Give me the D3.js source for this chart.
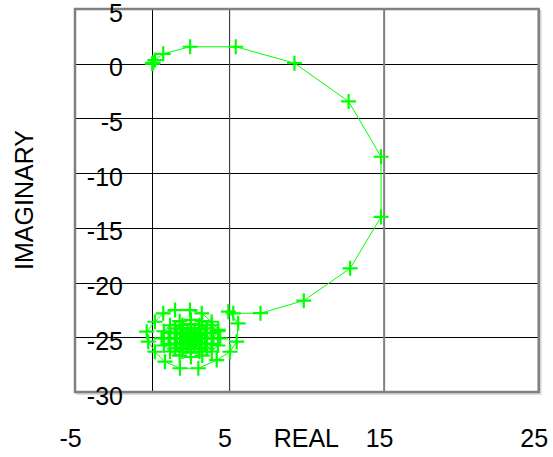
<!DOCTYPE html>
<html>
<head>
<meta charset="utf-8">
<script src="https://cdn.jsdelivr.net/npm/d3@7"></script>
<style>
  body { margin: 0; background: white; }
  text { font-family: "Liberation Sans", Arial, sans-serif; }
</style>
</head>
<body>
<svg id="nyquist"></svg>
<script>
// points (real, imaginary)
const realPart = [0, 0.02, 0.06, 0.17, 0.71, 2.45, 5.4, 9.2, 12.7, 14.8, 14.8, 12.8, 9.8, 7.0,
    5.24, 4.92, 5.56, 5.46, 5.03, 4.17, 2.98, 1.79, 0.82, 0.17, -0.26, -0.36, 0.17, 0.71, 1.47, 2.44, 3.2, 3.84, 4.27,
    4.4, 4.25, 3.85, 3.23, 2.5, 1.77, 1.15, 0.75, 0.6, 0.75, 1.15, 1.77, 2.5, 3.23, 3.85, 4.25,
    3.95, 3.84, 3.53, 3.05, 2.5, 1.95, 1.47, 1.16, 1.05, 1.16, 1.47, 1.95, 2.5, 3.05, 3.53, 3.84,
    3.55, 3.41, 3.03, 2.5, 1.97, 1.59, 1.45, 1.59, 1.97, 2.5, 3.03, 3.41,
    3.2, 3.07, 2.72, 2.28, 1.93, 1.8, 1.93, 2.28, 2.72, 3.07,
    2.9, 2.78, 2.5, 2.22, 2.1, 2.22, 2.5, 2.78,
    2.7, 2.6, 2.5, 2.5];
const imagPart = [0, 0.02, 0.1, 0.34, 0.9, 1.55, 1.55, 0.05, -3.45, -8.5, -14.0, -18.7, -21.65, -22.8,
    -22.81, -22.66, -23.72, -25.4, -26.32, -27.08, -27.83, -27.83, -27.23, -26.32, -25.4, -24.49, -23.58, -22.81, -22.51, -22.51, -22.81, -23.58, -24.33,
    -25.1, -25.75, -26.3, -26.67, -26.8, -26.67, -26.3, -25.75, -25.1, -24.45, -23.9, -23.53, -23.4, -23.53, -23.9, -24.45,
    -25.1, -25.6, -26.02, -26.3, -26.4, -26.3, -26.02, -25.6, -25.1, -24.6, -24.18, -23.9, -23.8, -23.9, -24.18, -24.6,
    -25.1, -25.58, -25.92, -26.05, -25.92, -25.58, -25.1, -24.62, -24.28, -24.15, -24.28, -24.62,
    -25.1, -25.48, -25.72, -25.72, -25.48, -25.1, -24.72, -24.48, -24.48, -24.72,
    -25.1, -25.35, -25.45, -25.35, -25.1, -24.85, -24.75, -24.85,
    -25.1, -25.2, -25.15, -25.1];

const xTicks = [-5, 5, 15, 25];
const yTicks = [5, 0, -5, -10, -15, -20, -25, -30];
const hGrid = [0, -5, -10, -15, -20, -25];

const dims = { width: 553, height: 457, left: 75, right: 538.7, top: 9, bottom: 392 };

const points = realPart.map((r, i) => ({ re: r, im: imagPart[i] }));

const svg = d3.select("#nyquist")
    .attr("width", dims.width)
    .attr("height", dims.height);

const xScale = d3.scaleLinear().domain([-5, 25]).range([dims.left, dims.right]);
const yScale = d3.scaleLinear().domain([-30, 5]).range([dims.bottom, dims.top]);

// horizontal grid
svg.selectAll(".hgrid")
    .data(hGrid)
    .enter().append("line")
    .attr("x1", dims.left).attr("x2", dims.right)
    .attr("y1", d => Math.round(yScale(d)) + 0.5)
    .attr("y2", d => Math.round(yScale(d)) + 0.5)
    .attr("stroke", "black")
    .attr("stroke-width", 1);

// vertical lines at 0, 5, 15
svg.append("line")
    .attr("x1", Math.round(xScale(0)) + 0.5).attr("x2", Math.round(xScale(0)) + 0.5)
    .attr("y1", dims.top).attr("y2", dims.bottom)
    .attr("stroke", "black");
svg.append("line")
    .attr("x1", xScale(5)).attr("x2", xScale(5))
    .attr("y1", dims.top).attr("y2", dims.bottom)
    .attr("stroke", "#444")
    .attr("stroke-width", 1.2);
svg.append("line")
    .attr("x1", xScale(15)).attr("x2", xScale(15))
    .attr("y1", dims.top).attr("y2", dims.bottom)
    .attr("stroke", "#808080")
    .attr("stroke-width", 2);

// small ticks on the x = 0 line
svg.selectAll(".ytick")
    .data([5, -30])
    .enter().append("line")
    .attr("x1", xScale(0) - 6).attr("x2", xScale(0))
    .attr("y1", d => yScale(d)).attr("y2", d => yScale(d))
    .attr("stroke", "black");

// frame with light shadow
svg.append("polyline")
    .attr("points", `${dims.right + 2},${dims.top + 1} ${dims.right + 2},${dims.bottom + 2} ${dims.left + 1},${dims.bottom + 2}`)
    .attr("fill", "none")
    .attr("stroke", "#d0d0d0")
    .attr("stroke-width", 1.5);
svg.append("rect")
    .attr("x", dims.left).attr("y", dims.top)
    .attr("width", dims.right - dims.left)
    .attr("height", dims.bottom - dims.top)
    .attr("fill", "none")
    .attr("stroke", "#808080")
    .attr("stroke-width", 2.5);

// curve
const line = d3.line()
    .x(d => xScale(d.re))
    .y(d => yScale(d.im));

svg.append("path")
    .datum(points)
    .attr("d", line)
    .attr("fill", "none")
    .attr("stroke", "#00ff00")
    .attr("stroke-width", 1);

// plus markers
svg.selectAll(".mark")
    .data(points)
    .enter().append("path")
    .attr("transform", d => `translate(${xScale(d.re)},${yScale(d.im)})`)
    .attr("d", "M-7.5,0H7.5M0,-7.5V7.5")
    .attr("stroke", "#00ff00")
    .attr("stroke-width", 2.2);

// y tick labels
svg.selectAll(".ylabel")
    .data(yTicks)
    .enter().append("text")
    .attr("x", 123)
    .attr("y", d => yScale(d) + 12.5)
    .attr("text-anchor", "end")
    .attr("font-size", 25)
    .text(d => d);

// x tick labels
svg.selectAll(".xlabel")
    .data(xTicks)
    .enter().append("text")
    .attr("x", d => xScale(d) - 4.5)
    .attr("y", 447)
    .attr("text-anchor", "middle")
    .attr("font-size", 25)
    .text(d => d);

svg.append("text")
    .attr("x", xScale(10) - 0.5)
    .attr("y", 447)
    .attr("text-anchor", "middle")
    .attr("font-size", 25)
    .text("REAL");

svg.append("text")
    .attr("transform", "rotate(-90)")
    .attr("x", -200)
    .attr("y", 33)
    .attr("text-anchor", "middle")
    .attr("font-size", 25)
    .text("IMAGINARY");
</script>
</body>
</html>
